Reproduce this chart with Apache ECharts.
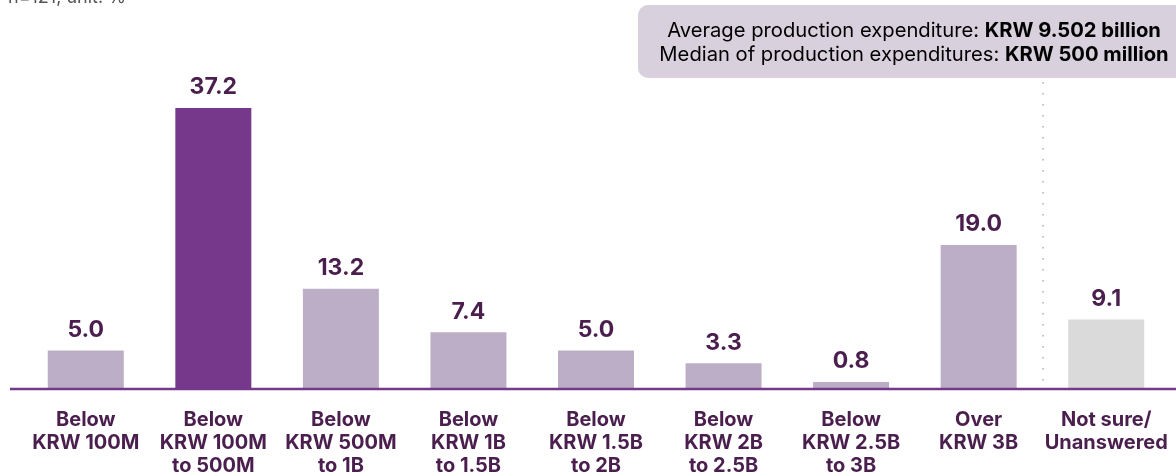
<!DOCTYPE html>
<html><head><meta charset="utf-8">
<script src="https://cdn.jsdelivr.net/npm/echarts@6/dist/echarts.min.js"></script>
<style>html,body{margin:0;padding:0;background:#fff}#c{width:1176px;height:476px}</style>
</head><body><div id="c"></div>
<script>
const categories = ["Below\nKRW 100M","Below\nKRW 100M\nto 500M","Below\nKRW 500M\nto 1B","Below\nKRW 1B\nto 1.5B","Below\nKRW 1.5B\nto 2B","Below\nKRW 2B\nto 2.5B","Below\nKRW 2.5B\nto 3B","Over\nKRW 3B","Not sure/\nUnanswered"];
const values = [5.0, 37.2, 13.2, 7.4, 5.0, 3.3, 0.8, 19.0, 9.1];
const barColors = ["#bcaec6","#76388a","#bcaec6","#bcaec6","#bcaec6","#bcaec6","#bcaec6","#bcaec6","#dadada"];
const noteText = "n=121, unit: %";
const boxLine1 = ["Average production expenditure: ", "KRW 9.502 billion"];
const boxLine2 = ["Median of production expenditures: ", "KRW 500 million"];

const dark = "#4a1f4e";
const chart = echarts.init(document.getElementById('c'));
chart.setOption({
  animation: false,
  textStyle: {fontFamily: "Inter"},
  grid: {left: 22, right: 6, top: 87, bottom: 88, containLabel: false, outerBoundsMode: 'none'},
  xAxis: {
    type: 'category', data: categories,
    axisLine: {show: false}, axisTick: {show: false},
    axisLabel: {interval: 0, color: dark, fontWeight: 'bold', fontSize: 20, lineHeight: 23.2, margin: 20, fontFamily: "Inter"}
  },
  yAxis: {type: 'value', min: 0, max: 40, show: false, splitLine: {show: false}},
  series: [{
    type: 'bar', barWidth: 76,
    data: values.map((v, i) => ({value: v, itemStyle: {color: barColors[i]}})),
    label: {show: true, position: 'top', distance: 9, color: dark, fontWeight: 'bold', fontSize: 23, fontFamily: "Inter",
      formatter: p => p.value.toFixed(1)}
  }],
  graphic: [
    {type: 'line', shape: {x1: 10, y1: 389, x2: 1176, y2: 389}, style: {stroke: '#76388a', lineWidth: 2.5}, z: 10},
    {type: 'line', shape: {x1: 1043, y1: 82, x2: 1043, y2: 387}, style: {stroke: '#b4a8bd', lineWidth: 1.5, lineDash: [1.5, 9.5]}},
    {type: 'rect', shape: {x: 638, y: 5, width: 560, height: 73, r: 10}, style: {fill: '#d9d0de'}},
    {type: 'text', x: 914, y: 43, style: {
      text: '{n|' + boxLine1[0] + '}{b|' + boxLine1[1] + '}\n{n|' + boxLine2[0] + '}{b|' + boxLine2[1] + '}',
      align: 'center', verticalAlign: 'middle', lineHeight: 24,
      rich: {
        n: {fontSize: 20.2, color: dark, fontFamily: 'Inter', lineHeight: 24},
        b: {fontSize: 20.2, color: dark, fontWeight: 'bold', fontFamily: 'Inter', lineHeight: 24}
      }
    }},
    {type: 'text', x: 8, y: -11, style: {text: noteText, fontSize: 18, fill: '#555555', fontFamily: 'Inter'}}
  ]
});
</script></body></html>
